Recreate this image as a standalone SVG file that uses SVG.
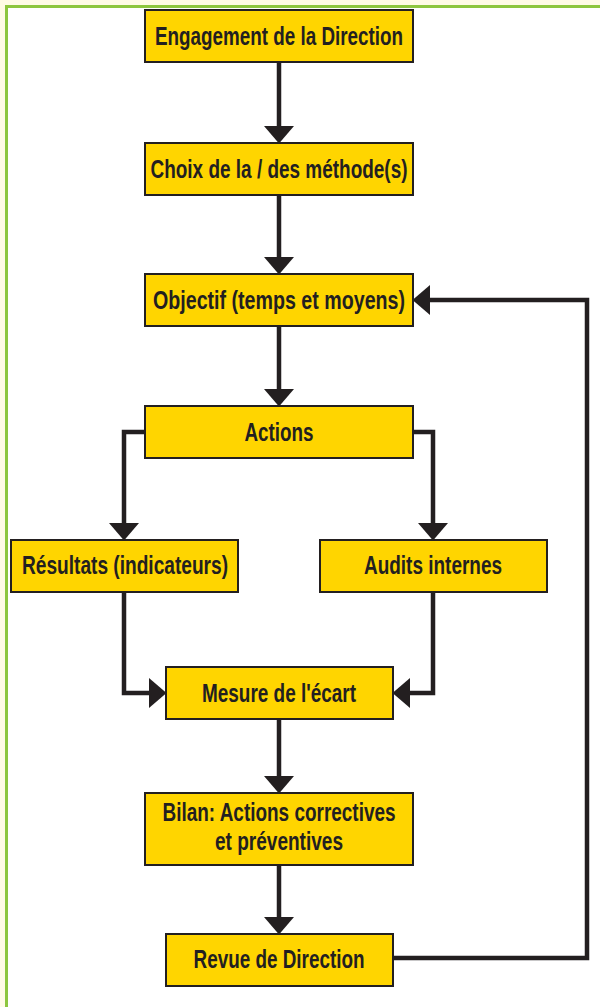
<svg xmlns="http://www.w3.org/2000/svg" width="600" height="1007" viewBox="0 0 600 1007">
  <defs>
    <style>
      .box { fill: #ffd500; stroke: #231f20; stroke-width: 2; }
      .lbl { font-family: "Liberation Sans", Arial, sans-serif; font-weight: bold; font-size: 25px; fill: #231f20; text-anchor: middle; }
      .link { fill: none; stroke: #231f20; stroke-width: 4.5; stroke-linejoin: miter; marker-end: url(#head); }
    </style>
    <marker id="head" markerUnits="userSpaceOnUse" viewBox="0 -16 18 32" refX="0" refY="0" markerWidth="18" markerHeight="32" orient="auto" overflow="visible">
      <polygon points="0,-15 17.5,0 0,15" fill="#231f20"/>
    </marker>
  </defs>

  <!-- page background and green frame -->
  <rect x="0" y="0" width="600" height="1007" fill="#fffbe6"/>
  <rect x="6.5" y="6.5" width="620" height="1030" fill="#ffffff" stroke="#8dc63f" stroke-width="3"/>

  <!-- connectors -->
  <g id="connectors">
    <path class="link" d="M279,62 V126"/>
    <path class="link" d="M279,195 V257"/>
    <path class="link" d="M279,326 V389"/>
    <path class="link" d="M145,432 H124 V523"/>
    <path class="link" d="M413,432 H433 V523"/>
    <path class="link" d="M124,592 V693 H149"/>
    <path class="link" d="M433,592 V693 H410"/>
    <path class="link" d="M279,719 V776"/>
    <path class="link" d="M279,865 V917"/>
    <path class="link" d="M393,958 H587 V300 H430"/>
  </g>

  <g id="engagement">
    <rect class="box" x="145" y="10" width="268" height="52"/>
    <text class="lbl" x="279" y="44.5" textLength="248" lengthAdjust="spacingAndGlyphs">Engagement de la Direction</text>
  </g>

  <g id="choix">
    <rect class="box" x="145" y="143" width="268" height="52"/>
    <text class="lbl" x="279" y="177.5" textLength="257" lengthAdjust="spacingAndGlyphs">Choix de la / des méthode(s)</text>
  </g>

  <g id="objectif">
    <rect class="box" x="145" y="274" width="268" height="52"/>
    <text class="lbl" x="279" y="308.5" textLength="252" lengthAdjust="spacingAndGlyphs">Objectif (temps et moyens)</text>
  </g>

  <g id="actions">
    <rect class="box" x="145" y="406" width="268" height="52"/>
    <text class="lbl" x="279" y="440.5" textLength="69" lengthAdjust="spacingAndGlyphs">Actions</text>
  </g>

  <g id="resultats">
    <rect class="box" x="11" y="540" width="227" height="52"/>
    <text class="lbl" x="125" y="574" textLength="206" lengthAdjust="spacingAndGlyphs">Résultats (indicateurs)</text>
  </g>

  <g id="audits">
    <rect class="box" x="320" y="540" width="227" height="52"/>
    <text class="lbl" x="433" y="574" textLength="138" lengthAdjust="spacingAndGlyphs">Audits internes</text>
  </g>

  <g id="mesure">
    <rect class="box" x="166" y="667" width="227" height="52"/>
    <text class="lbl" x="279" y="701.5" textLength="154" lengthAdjust="spacingAndGlyphs">Mesure de l'écart</text>
  </g>

  <g id="bilan">
    <rect class="box" x="145" y="793" width="268" height="72"/>
    <text class="lbl" x="279" y="821" textLength="233" lengthAdjust="spacingAndGlyphs">Bilan: Actions correctives</text>
    <text class="lbl" x="279" y="850" textLength="128" lengthAdjust="spacingAndGlyphs">et préventives</text>
  </g>

  <g id="revue">
    <rect class="box" x="166" y="934" width="227" height="52"/>
    <text class="lbl" x="279" y="968" textLength="171" lengthAdjust="spacingAndGlyphs">Revue de Direction</text>
  </g>
</svg>
